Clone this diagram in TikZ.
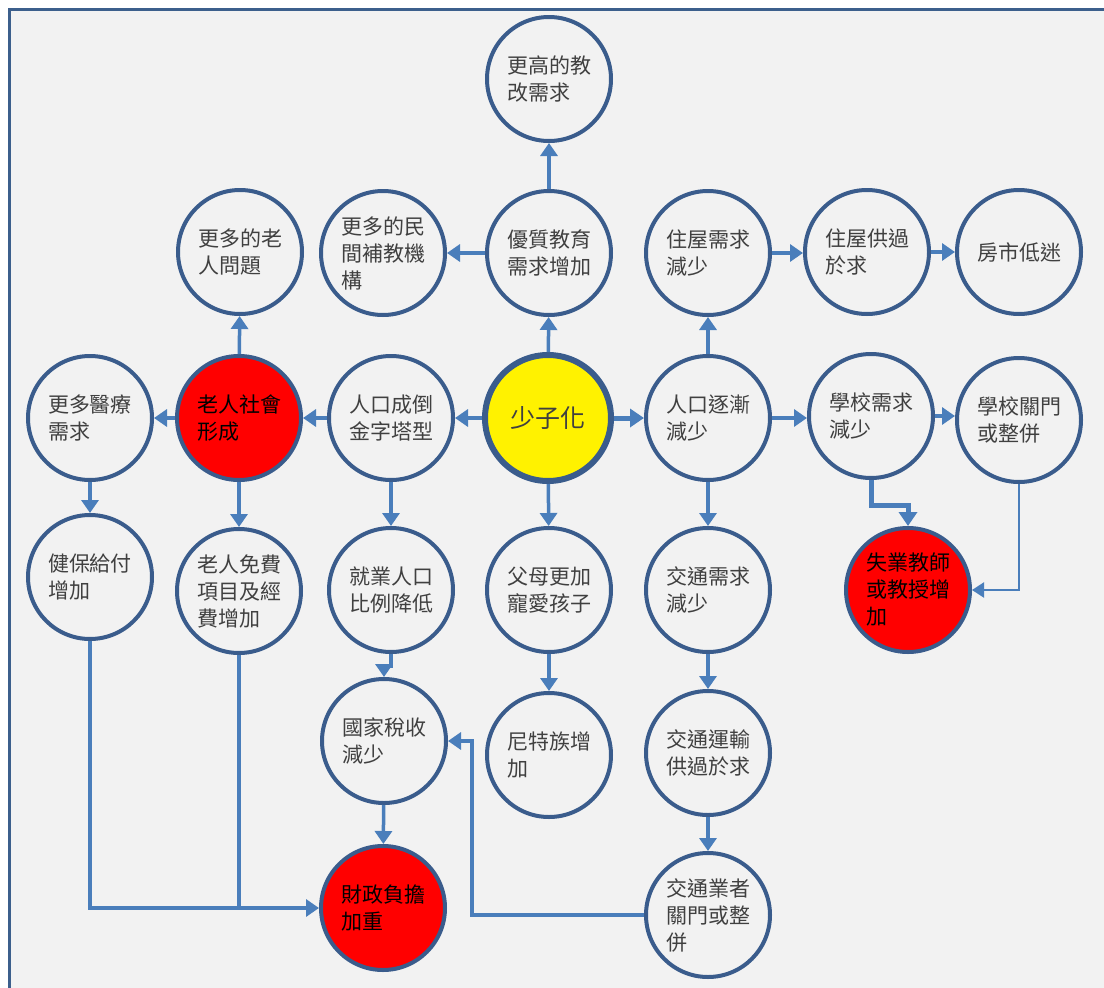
\documentclass[tikz,border=0pt]{standalone}
\usepackage{fontspec}
\setmainfont{Noto Sans CJK TC}
\usetikzlibrary{arrows.meta}
\definecolor{bgfill}{RGB}{242,242,242}
\definecolor{frameblue}{RGB}{60,95,140}
\definecolor{ringblue}{RGB}{58,92,140}
\definecolor{linkblue}{RGB}{74,126,187}
\definecolor{txtgray}{RGB}{64,64,64}
\tikzset{
  circ/.style={circle, draw=ringblue, line width=4pt, fill=bgfill, minimum size=124pt, inner sep=0pt,
    align=left, text=txtgray, font=\fontsize{21}{27}\selectfont},
  hot/.style={circ, fill=red, text=black},
  core/.style={circ, fill=yellow, line width=6pt, minimum size=126pt, font=\fontsize{25}{30}\selectfont},
  conn/.style={draw=linkblue, line width=3.5pt, -{Triangle[width=17pt,length=13pt]}},
  thickconn/.style={conn, line width=5pt, -{Triangle[width=18pt,length=14pt]}},
  thinconn/.style={conn, line width=2.2pt, -{Triangle[width=15pt,length=12pt]}},
  plain/.style={draw=linkblue, line width=3.5pt}
}
\begin{document}
\begin{tikzpicture}[x=1pt,y=-1pt]
\useasboundingbox (0,0) rectangle (1104,988);
\fill[white] (0,0) rectangle (1104,988);
\fill[bgfill] (9,9) rectangle (1104,988);
\draw[frameblue, line width=3pt] (9,988) -- (9,9) -- (1104,9);

% row 1
\node[circ] (gaojiao) at (549,79) {更高的教\\改需求};
% row 2
\node[circ] (laoren) at (240,252) {更多的老\\人問題};
\node[circ] (minjian) at (383,253) {更多的民\\間補教機\\構};
\node[circ] (youzhi) at (549,253) {優質教育\\需求增加};
\node[circ] (zhuwu) at (708,253) {住屋需求\\減少};
\node[circ] (gongguo) at (867,252) {住屋供過\\於求};
\node[circ] (fangshi) at (1019,252) {房市低迷};
% row 3
\node[circ] (yiliao) at (90,418) {更多醫療\\需求};
\node[hot] (laorenshe) at (239,418) {老人社會\\形成};
\node[circ] (daojin) at (391,418) {人口成倒\\金字塔型};
\node[core] (center) at (548,418) {少子化};
\node[circ] (jianshao) at (708,418) {人口逐漸\\減少};
\node[circ] (xuexiao) at (871,416) {學校需求\\減少};
\node[circ] (guanmen) at (1019,420) {學校關門\\或整併};
% row 4
\node[circ] (jianbao) at (90,577) {健保給付\\增加};
\node[circ] (mianfei) at (239,591) {老人免費\\項目及經\\費增加};
\node[circ] (jiuye) at (391,590) {就業人口\\比例降低};
\node[circ] (fumu) at (549,590) {父母更加\\寵愛孩子};
\node[circ] (jiaotong) at (708,590) {交通需求\\減少};
\node[hot] (shiye) at (908,590) {失業教師\\或教授增\\加};
% row 5
\node[circ] (shuishou) at (384,741) {國家稅收\\減少};
\node[circ] (nite) at (549,755) {尼特族增\\加};
\node[circ] (yunshu) at (708,753) {交通運輸\\供過於求};
% row 6
\node[hot] (caizheng) at (383,908) {財政負擔\\加重};
\node[circ] (yezhe) at (708,915) {交通業者\\關門或整\\併};

\coordinate (jog) at (472,915);

% connectors
\draw[conn] (center) -- (daojin);
\draw[thickconn] (center) -- (jianshao);
\draw[conn] (center) -- (youzhi);
\draw[conn] (center) -- (fumu);
\draw[conn] (jianshao) -- (zhuwu);
\draw[conn] (jianshao) -- (xuexiao.west |- jianshao);
\draw[conn] (jianshao) -- (jiaotong);
\draw[conn] (zhuwu) -- (gongguo.west |- zhuwu);
\draw[conn] (gongguo) -- (fangshi);
\draw[conn] (xuexiao.east) -- (guanmen.west |- xuexiao.east);
\draw[conn] (youzhi) -- (gaojiao);
\draw[conn] (youzhi) -- (minjian);
\draw[conn] (daojin) -- (laorenshe);
\draw[conn] (daojin) -- (jiuye);
\draw[conn] (laorenshe) -- (laoren);
\draw[conn] (laorenshe) -- (yiliao);
\draw[conn] (laorenshe) -- (mianfei);
\draw[conn] (yiliao) -- (jianbao);
\draw[conn] (jiuye.south) -- ++(0,12) -| (shuishou.north);
\draw[conn] (shuishou) -- (caizheng);
\draw[conn] (fumu) -- (nite);
\draw[conn] (jiaotong) -- (yunshu);
\draw[conn] (yunshu) -- (yezhe);
\draw[conn] (jianbao.south) |- (caizheng.west);
\draw[plain] (mianfei.south) -- (mianfei.south |- caizheng.west);
\draw[conn] (yezhe.west) -- (jog) |- (shuishou.east);
\draw[thickconn] (xuexiao.south) -- ++(0,25) -| (shiye.north);
\draw[thinconn] (guanmen.south) |- (shiye.east);
\end{tikzpicture}
\end{document}
